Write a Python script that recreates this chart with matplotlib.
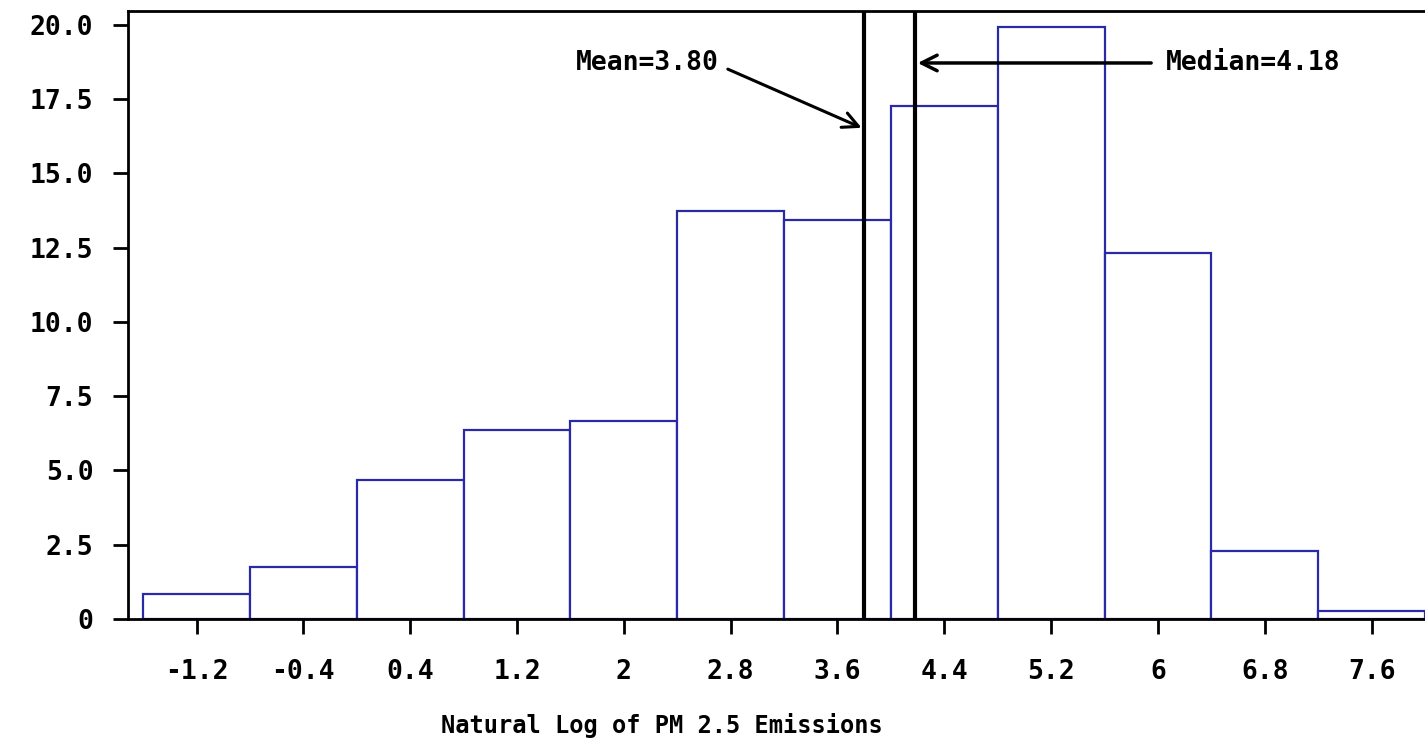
import matplotlib
matplotlib.use("Agg")
import matplotlib.pyplot as plt

# data
bin_centers = [-1.2, -0.4, 0.4, 1.2, 2.0, 2.8, 3.6, 4.4, 5.2, 6.0, 6.8, 7.6]
percents = [0.85, 1.74, 4.68, 6.37, 6.68, 13.73, 13.42, 17.27, 19.92, 12.31, 2.28, 0.28]
tick_labels = ["-1.2", "-0.4", "0.4", "1.2", "2", "2.8", "3.6", "4.4", "5.2", "6", "6.8", "7.6"]
y_ticks = [0, 2.5, 5.0, 7.5, 10.0, 12.5, 15.0, 17.5, 20.0]
y_labels = ["0", "2.5", "5.0", "7.5", "10.0", "12.5", "15.0", "17.5", "20.0"]
mean_val = 3.80
median_val = 4.18
bin_width = 0.8

plt.rcParams["font.family"] = "DejaVu Sans Mono"
plt.rcParams["font.weight"] = "bold"

fig = plt.figure(figsize=(14.25, 7.4), dpi=100)
ax = fig.add_axes([128 / 1425, 1 - 619 / 740, 1 - 128 / 1425, 608 / 740])

ax.bar(bin_centers, percents, width=bin_width, facecolor="white",
       edgecolor="#2a2aa6", linewidth=1.6, zorder=2)

ax.axvline(mean_val, color="black", lw=3, zorder=3)
ax.axvline(median_val, color="black", lw=3, zorder=3)

ax.annotate("", xy=(mean_val, 16.5), xytext=(2.76, 18.55),
            arrowprops=dict(arrowstyle="->", lw=2.2, color="black", mutation_scale=28))
ax.text(2.71, 18.72, f"Mean={mean_val:.2f}", ha="right", va="center",
        fontsize=19, fontweight="bold")

ax.annotate("", xy=(median_val, 18.72), xytext=(5.97, 18.72),
            arrowprops=dict(arrowstyle="->", lw=2.5, color="black", mutation_scale=28))
ax.text(6.06, 18.72, f"Median={median_val:.2f}", ha="left", va="center",
        fontsize=19, fontweight="bold")

ax.set_xlim(-1.713, 8.0)
ax.set_ylim(0, 20.47)
ax.set_xticks(bin_centers)
ax.set_xticklabels(tick_labels)
ax.set_yticks(y_ticks)
ax.set_yticklabels(y_labels)
ax.tick_params(axis="both", direction="out", length=11, width=2, labelsize=19)
ax.tick_params(axis="x", pad=18)
ax.tick_params(axis="y", pad=14)

for s in ["left", "top", "bottom"]:
    ax.spines[s].set_linewidth(2)
ax.spines["right"].set_visible(False)

ax.set_xlabel("Natural Log of PM 2.5 Emissions", fontsize=17, fontweight="bold")
ax.xaxis.set_label_coords(0.412, -0.155)

fig.savefig("out.png", dpi=100)
